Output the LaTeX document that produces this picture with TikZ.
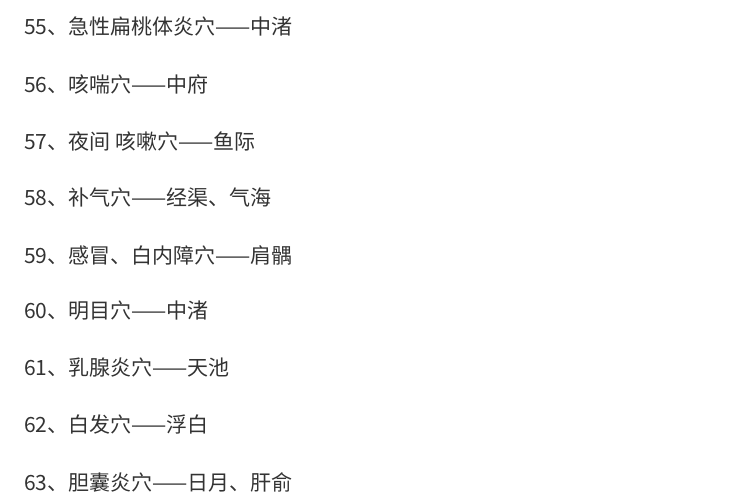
\documentclass[tikz,border=0pt]{standalone}
\usepackage{fontspec}
\setmainfont{Noto Sans CJK SC}
\definecolor{itemtext}{HTML}{333333}
\tikzset{item/.style={anchor=west,inner sep=0pt,text=itemtext,font=\fontsize{21}{21}\selectfont}}
\begin{document}
\begin{tikzpicture}[x=1pt,y=1pt]
  \useasboundingbox (0,0) rectangle (740,-493);
  \node[item] (i55) at (24,-27) {55、急性扁桃体炎穴——中渚};
  \node[item] (i56) at (24,-84) {56、咳喘穴——中府};
  \node[item] (i57) at (24,-141) {57、夜间 咳嗽穴——鱼际};
  \node[item] (i58) at (24,-198) {58、补气穴——经渠、气海};
  \node[item] (i59) at (24,-255) {59、感冒、白内障穴——肩髃};
  \node[item] (i60) at (24,-311) {60、明目穴——中渚};
  \node[item] (i61) at (24,-368) {61、乳腺炎穴——天池};
  \node[item] (i62) at (24,-425) {62、白发穴——浮白};
  \node[item] (i63) at (24,-482) {63、胆囊炎穴——日月、肝俞};
\end{tikzpicture}
\end{document}
